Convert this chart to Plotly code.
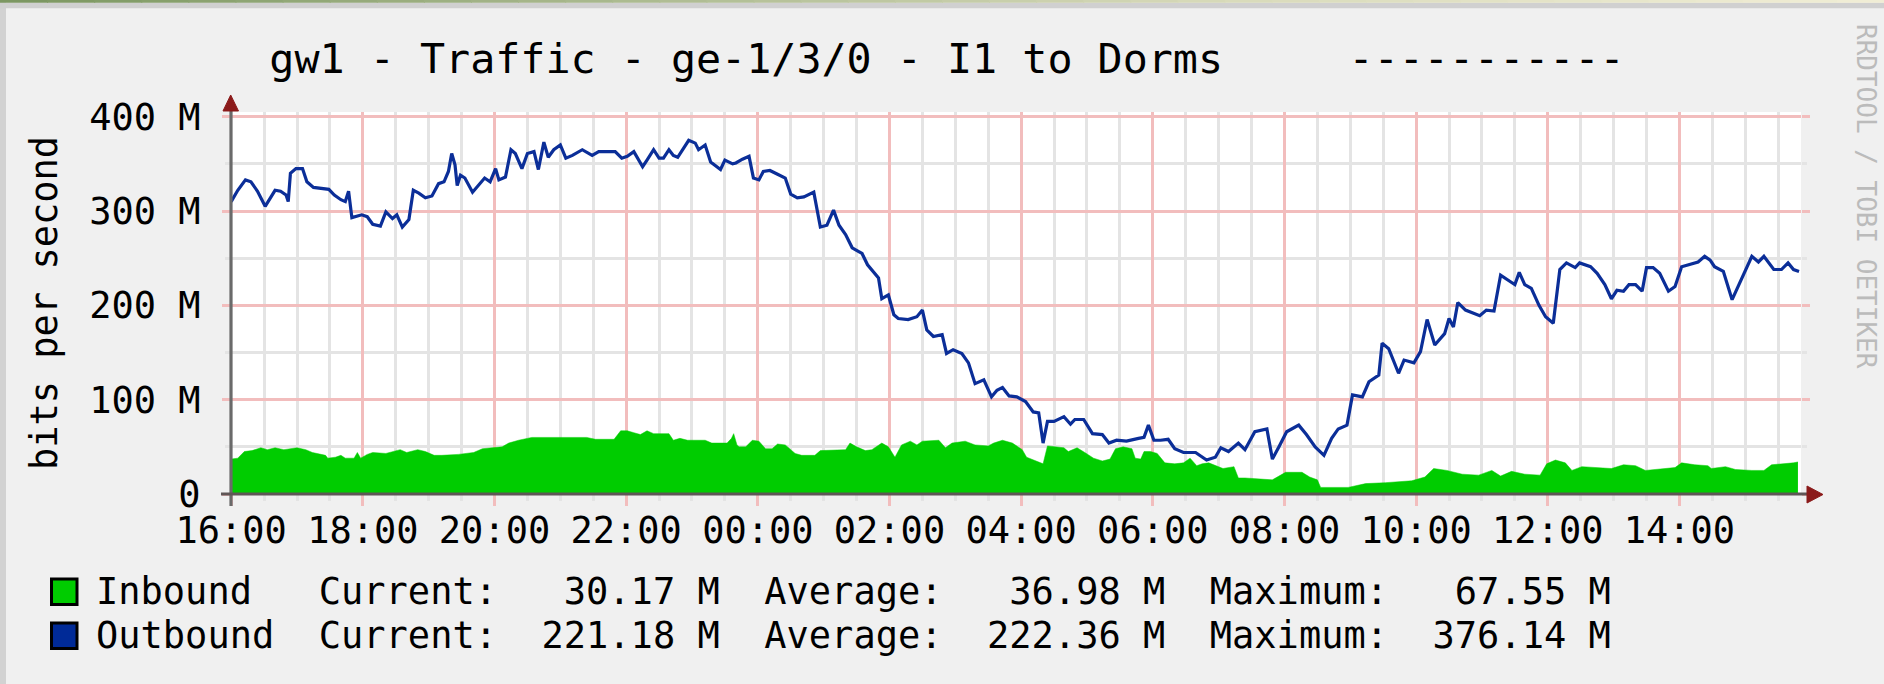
import plotly.graph_objects as go
import pandas as pd

# ---------------- data ----------------
START = pd.Timestamp("2011-05-02 16:00")
RANGE_MINUTES = 1430.8          # visible window: 16:00 -> ~15:51 next day

# Outbound (blue line): minutes after 16:00 and value in Mbit/s
out_min = [0, 6, 13, 18, 24, 31, 40, 45, 50, 52, 54, 59, 65, 69, 75, 83, 89, 94, 100, 104,
           107, 110, 119, 124, 129, 136, 141, 147, 151, 156, 162, 166, 171, 177, 183, 189, 194, 198, 201, 204,
           206, 209, 213, 220, 226, 231, 236, 241, 244, 250, 255, 259, 265, 270, 276, 280, 285, 289, 294, 300,
           305, 311, 320, 324, 329, 335, 350, 356, 361, 367, 375, 379, 385, 390, 394, 399, 403, 407, 417, 423,
           426, 432, 437, 446, 450, 457, 460, 466, 472, 476, 481, 485, 491, 498, 505, 510, 516, 522, 531, 537,
           543, 549, 554, 560, 566, 572, 575, 580, 586, 590, 593, 599, 604, 608, 617, 625, 630, 634, 640, 648,
           652, 658, 666, 672, 678, 686, 693, 698, 703, 709, 716, 724, 731, 736, 740, 744, 750, 759, 765, 769,
           777, 785, 794, 800, 807, 816, 827, 832, 836, 841, 847, 854, 860, 868, 879, 889, 897, 902, 909, 918,
           924, 933, 944, 949, 955, 962, 973, 980, 988, 996, 1003, 1009, 1017, 1022, 1031, 1037, 1046, 1049, 1055, 1064,
           1069, 1078, 1084, 1090, 1097, 1106, 1110, 1114, 1118, 1125, 1138, 1144, 1151, 1157, 1166, 1170, 1174, 1179, 1185, 1192,
           1198, 1205, 1211, 1217, 1225, 1229, 1239, 1245, 1252, 1258, 1263, 1269, 1274, 1280, 1286, 1290, 1296, 1302, 1310, 1316,
           1322, 1328, 1337, 1343, 1348, 1352, 1360, 1368, 1372, 1377, 1386, 1392, 1397, 1406, 1413, 1419, 1424, 1429]
out_val = [310, 322, 333, 331, 321, 305, 322, 321, 317, 310, 340, 345, 345, 331, 325, 324, 323, 317, 312, 310,
           321, 293, 296, 294, 286, 284, 299, 292, 296, 283, 291, 322, 319, 314, 316, 329, 331, 342, 361, 349,
           327, 338, 335, 320, 328, 335, 331, 345, 333, 336, 365, 361, 345, 361, 363, 344, 373, 357, 365, 370,
           356, 359, 365, 362, 359, 363, 363, 356, 358, 363, 347, 354, 365, 356, 356, 365, 359, 357, 375, 372,
           365, 370, 352, 344, 354, 350, 351, 355, 358, 335, 333, 342, 343, 339, 335, 318, 314, 315, 320, 283,
           285, 301, 285, 275, 261, 257, 255, 243, 234, 229, 207, 211, 190, 186, 185, 188, 195, 174, 167, 169,
           149, 153, 149, 139, 117, 121, 103, 110, 113, 104, 103, 98, 87, 86, 54, 77, 77, 82, 74, 79,
           79, 64, 63, 54, 57, 56, 59, 60, 73, 57, 57, 58, 48, 44, 44, 36, 39, 49, 45, 54,
           47, 66, 69, 37, 50, 66, 73, 63, 50, 41, 59, 69, 73, 105, 103, 119, 126, 160, 154, 128,
           142, 139, 151, 185, 158, 170, 186, 177, 203, 195, 189, 195, 194, 232, 225, 222, 235, 222, 218, 200,
           188, 181, 238, 245, 240, 245, 241, 234, 222, 207, 216, 215, 222, 222, 215, 240, 240, 234, 215, 220,
           241, 243, 246, 252, 248, 241, 236, 206, 216, 229, 252, 246, 252, 238, 238, 245, 238, 236]

# Inbound (green area): minutes after 16:00 and value in Mbit/s
in_min = [0, 6, 12, 19, 27, 33, 40, 48, 60, 68, 74, 86, 88, 95, 100, 104, 112, 115, 118, 124,
          129, 141, 154, 160, 170, 177, 185, 192, 207, 221, 229, 238, 247, 253, 262, 274, 293, 314, 324, 332,
          349, 355, 361, 367, 373, 379, 385, 399, 403, 409, 416, 432, 438, 452, 456, 458, 461, 463, 469, 475,
          481, 487, 493, 498, 505, 514, 520, 532, 537, 560, 564, 570, 578, 584, 593, 599, 605, 611, 619, 625,
          630, 645, 651, 657, 669, 678, 690, 695, 703, 712, 721, 725, 731, 740, 744, 751, 759, 763, 771, 778,
          786, 794, 801, 806, 813, 821, 824, 829, 832, 838, 844, 851, 860, 868, 874, 880, 885, 891, 898, 904,
          914, 918, 924, 939, 949, 955, 961, 976, 983, 990, 993, 1018, 1028, 1034, 1052, 1076, 1088, 1096, 1108, 1122,
          1137, 1149, 1157, 1167, 1179, 1193, 1199, 1207, 1216, 1222, 1231, 1243, 1258, 1269, 1280, 1289, 1304, 1316, 1322, 1334,
          1346, 1349, 1362, 1371, 1386, 1397, 1404, 1418, 1424, 1428]
in_val = [37, 38, 45, 46, 49, 47, 49, 47, 49, 47, 44, 41, 38, 39, 41, 38, 38, 44, 38, 42,
          44, 43, 47, 44, 47, 45, 41, 41, 42, 44, 48, 49, 50, 54, 57, 60, 60, 60, 60, 58,
          58, 67, 67, 65, 63, 67, 64, 64, 57, 59, 57, 57, 54, 54, 59, 64, 52, 50, 50, 57,
          56, 48, 48, 53, 52, 43, 41, 41, 46, 47, 54, 50, 46, 47, 54, 50, 39, 52, 56, 52,
          56, 57, 49, 54, 56, 52, 51, 54, 57, 54, 47, 39, 36, 32, 51, 50, 49, 45, 49, 44,
          38, 35, 37, 48, 50, 48, 38, 37, 45, 45, 43, 33, 32, 33, 38, 30, 32, 33, 30, 27,
          29, 17, 17, 16, 15, 19, 23, 23, 18, 15, 7, 7, 10, 11, 12, 14, 18, 27, 25, 21,
          20, 25, 19, 24, 21, 20, 32, 36, 33, 25, 29, 28, 27, 31, 30, 25, 27, 28, 33, 31,
          30, 27, 29, 26, 25, 25, 31, 32, 33, 34]

# legend statistics (Current, Average, Maximum) in Mbit/s
in_stats = [30.17, 36.98, 67.55]
out_stats = [221.18, 222.36, 376.14]

y_tickvals = [0, 100, 200, 300, 400]
y_ticktext = ["0", "100 M", "200 M", "300 M", "400 M"]

TITLE = "gw1 - Traffic - ge-1/3/0 - I1 to Dorms     -----------"
Y_TITLE = "bits per second"
WATERMARK = "RRDTOOL / TOBI OETIKER"

# ---------------- styling / geometry ----------------
W, H = 1884, 684
L, R, T, B = 231, 1801, 112, 494          # plot area in pixels
FONT = "DejaVu Sans Mono"
GREEN = "#00CC00"
BLUE = "#0B2E98"
MAJOR = "#F2BDBD"
MINOR = "#E4E4E4"
AXIS = "#5F5656"
ARROW = "#8B1A1A"


def px(x):
    return (x - L) / (R - L)


def py(y):
    return (B - y) / (B - T)


def nb(s):
    return s.replace(" ", "\u00a0")


x_out = [START + pd.Timedelta(minutes=m) for m in out_min]
x_in = [START + pd.Timedelta(minutes=m) for m in in_min]

fig = go.Figure()
fig.add_trace(go.Scatter(x=x_in, y=in_val, mode="lines", fill="tozeroy",
                         fillcolor=GREEN, line=dict(color=GREEN, width=0.5),
                         name="Inbound", hoverinfo="skip"))
fig.add_trace(go.Scatter(x=x_out, y=out_val, mode="lines",
                         line=dict(color=BLUE, width=3.2),
                         name="Outbound", hoverinfo="skip"))

tickfont = dict(family=FONT, size=37, color="#000000")

fig.update_layout(
    width=W, height=H,
    margin=dict(l=L, r=W - R, t=T, b=H - B, pad=0),
    paper_bgcolor="#F0F0F0",
    plot_bgcolor="#FFFFFF",
    showlegend=False,
    title=dict(text=nb(TITLE), x=947 / W, xanchor="center", xref="container",
               y=1 - 58 / H, yanchor="middle", yref="container",
               font=dict(family=FONT, size=41.7, color="#000000")),
    xaxis=dict(
        type="date",
        range=[START - pd.Timedelta(seconds=10), START + pd.Timedelta(minutes=RANGE_MINUTES)],
        tickformat="%H:%M", tick0=START, dtick=2 * 3600 * 1000,
        showgrid=True, gridcolor=MAJOR, gridwidth=2.5,
        ticks="outside", ticklen=11, tickwidth=2.5, tickcolor=MAJOR,
        tickfont=tickfont, ticklabelstandoff=-7,
        minor=dict(tick0=START, dtick=30 * 60 * 1000, showgrid=True, gridcolor=MINOR,
                   gridwidth=2.5, ticks="outside", ticklen=6, tickwidth=2.5, tickcolor=MINOR),
        showline=False, zeroline=False, fixedrange=True,
    ),
    yaxis=dict(
        range=[0, 405],
        tickvals=y_tickvals, ticktext=y_ticktext,
        showgrid=True, gridcolor=MAJOR, gridwidth=2.5,
        ticks="outside", ticklen=8, tickwidth=2.5, tickcolor=MAJOR,
        tickfont=tickfont, ticklabelstandoff=14,
        minor=dict(dtick=50, showgrid=True, gridcolor=MINOR, gridwidth=2.5,
                   ticks="outside", ticklen=5, tickwidth=2.5, tickcolor=MINOR),
        mirror="ticks",
        title=dict(text=nb(Y_TITLE), standoff=20,
                   font=dict(family=FONT, size=37, color="#000000")),
        showline=False, zeroline=False, fixedrange=True,
    ),
)

shapes = []
# page decoration: left strip and top bands
shapes.append(dict(type="rect", xref="paper", yref="paper", x0=px(0), x1=px(6), y0=py(H), y1=py(0),
                   fillcolor="#D2D2D2", line=dict(width=0), layer="below"))
shapes.append(dict(type="rect", xref="paper", yref="paper", x0=px(0), x1=px(W), y0=py(8.3), y1=py(2.7),
                   fillcolor="#D0D0D0", line=dict(width=0), layer="below"))
stops = [(0.0, (0x7A, 0x96, 0x60)), (0.35, (0xAE, 0xBC, 0x92)), (0.65, (0xD8, 0xDA, 0xBA)), (1.0, (0xF1, 0xEE, 0xD6))]
NSEG = 40
for i in range(NSEG):
    f = (i + 0.5) / NSEG
    for j in range(len(stops) - 1):
        if stops[j][0] <= f <= stops[j + 1][0]:
            a, ca = stops[j]
            b, cb = stops[j + 1]
            t = (f - a) / (b - a)
            c = tuple(int(round(ca[k] + (cb[k] - ca[k]) * t)) for k in range(3))
            break
    shapes.append(dict(type="rect", xref="paper", yref="paper",
                       x0=px(W * i / NSEG), x1=px(W * (i + 1) / NSEG + 1), y0=py(2.7), y1=py(0),
                       fillcolor="rgb(%d,%d,%d)" % c, line=dict(width=0), layer="below"))

# axes lines with arrows (RRDtool style)
shapes.append(dict(type="line", xref="paper", yref="paper", x0=0, x1=0, y0=py(506), y1=py(108),
                   line=dict(color="#6A6A6A", width=3.2), layer="above"))
shapes.append(dict(type="line", xref="paper", yref="paper", x0=px(221), x1=px(1808), y0=0, y1=0,
                   line=dict(color=AXIS, width=3.2), layer="above"))
shapes.append(dict(type="path", xref="paper", yref="paper",
                   path="M %f %f L %f %f L %f %f Z" % (px(230.7), py(95), px(223), py(111), px(238.5), py(111)),
                   fillcolor=ARROW, line=dict(color=ARROW, width=1), layer="above"))
shapes.append(dict(type="path", xref="paper", yref="paper",
                   path="M %f %f L %f %f L %f %f Z" % (px(1823), py(494.5), px(1807), py(486), px(1807), py(503)),
                   fillcolor=ARROW, line=dict(color=ARROW, width=1), layer="above"))

# legend swatches
shapes.append(dict(type="rect", xref="paper", yref="paper", x0=px(51.5), x1=px(77), y0=py(604.5), y1=py(579),
                   fillcolor=GREEN, line=dict(color="#000000", width=3)))
shapes.append(dict(type="rect", xref="paper", yref="paper", x0=px(51.5), x1=px(77), y0=py(648.5), y1=py(623),
                   fillcolor="#002A97", line=dict(color="#000000", width=3)))
fig.update_layout(shapes=shapes)


def legend_line(name, stats):
    cur, avg, mx = stats
    return "%-10sCurrent:%8.2f M  Average:%8.2f M  Maximum:%8.2f M" % (name, cur, avg, mx)


annotations = [
    dict(text=nb(legend_line("Inbound", in_stats)), x=px(94), y=py(591), xref="paper", yref="paper",
         xanchor="left", yanchor="middle", showarrow=False,
         font=dict(family=FONT, size=37, color="#000000")),
    dict(text=nb(legend_line("Outbound", out_stats)), x=px(94), y=py(635), xref="paper", yref="paper",
         xanchor="left", yanchor="middle", showarrow=False,
         font=dict(family=FONT, size=37, color="#000000")),
    dict(text=nb(WATERMARK), x=px(1866), y=py(196), xref="paper", yref="paper",
         xanchor="center", yanchor="middle", textangle=90, showarrow=False,
         font=dict(family=FONT, size=26, color="#BBBBBB")),
]
fig.update_layout(annotations=annotations)

fig.write_html("out.html", config={"displayModeBar": False},
               post_script="document.body.style.margin='0';")
